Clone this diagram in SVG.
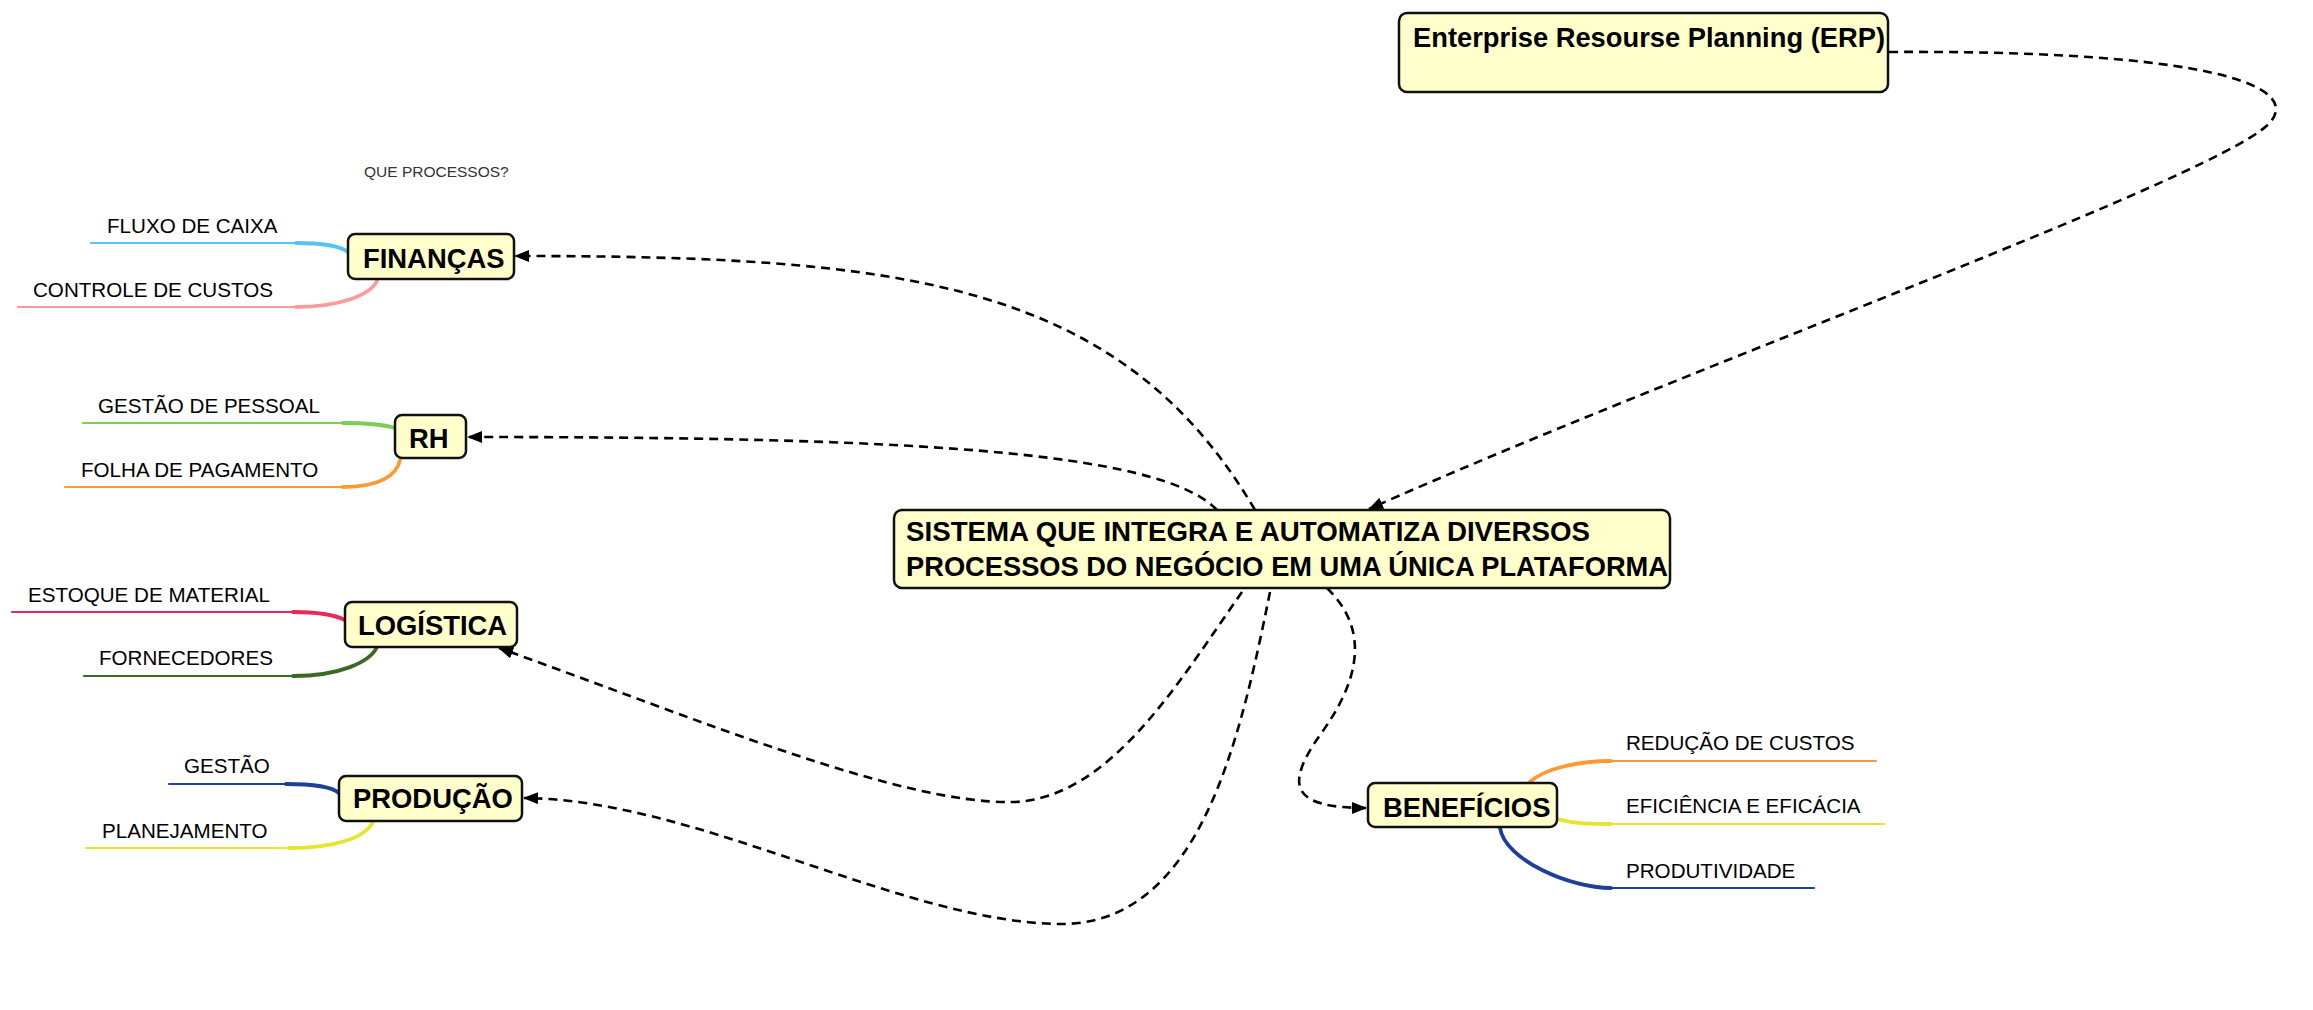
<svg xmlns="http://www.w3.org/2000/svg" width="2313" height="1010" viewBox="0 0 2313 1010">
<style>
.node{fill:#ffffcc;stroke:#111;stroke-width:2.5}
.nt{font-family:"Liberation Sans",Arial,sans-serif;font-weight:bold;font-size:27.4px;fill:#000}
.st{font-family:"Liberation Sans",Arial,sans-serif;font-size:20.6px;fill:#000}
.note{font-family:"Liberation Sans",Arial,sans-serif;font-size:15.5px;fill:#333}
.conn{fill:none;stroke:#000;stroke-width:2.6;stroke-dasharray:9 6;marker-end:url(#arr)}
.br{fill:none;stroke-width:2.2;stroke-linecap:round}
.bc{fill:none;stroke-width:3.8;stroke-linecap:round}
</style>
<defs>
<marker id="arr" viewBox="0 0 15 12" refX="14" refY="6" markerWidth="15" markerHeight="12" markerUnits="userSpaceOnUse" orient="auto">
<path d="M0,0 L15,6 L0,12 z" fill="#000"/>
</marker>
</defs>
<rect width="2313" height="1010" fill="#fff"/>

<g id="connectors">
<path class="conn" d="M1889,52 C2180,50 2300,80 2272,120 C2240,170 1680,370 1369,509"/>
<path class="conn" d="M1255,510 C1120,280 900,256 515,256"/>
<path class="conn" d="M1217,510 C1160,450 900,437 468,437"/>
<path class="conn" d="M1242,592 C1180,680 1110,800 1012,802 C900,804 700,720 499,648"/>
<path class="conn" d="M1270,592 C1240,740 1200,925 1060,924 C900,922 700,800 524,798"/>
<path class="conn" d="M1327,588 C1370,630 1360,680 1320,735 C1285,785 1290,808 1366,808"/>
</g>

<g id="branches">
<path class="br" stroke="#55c3f5" d="M91,243 H296"/>
<path class="bc" stroke="#55c3f5" d="M296,243 C325,243 340,246 348,252"/>
<path class="br" stroke="#ff9a9a" d="M18,307 H296"/>
<path class="bc" stroke="#ff9a9a" d="M296,307 C340,307 370,295 377,281"/>
<path class="br" stroke="#7ccc55" d="M83,423 H343"/>
<path class="bc" stroke="#7ccc55" d="M343,423 C370,423 385,425 395,428"/>
<path class="br" stroke="#ff9933" d="M65,487 H343"/>
<path class="bc" stroke="#ff9933" d="M343,487 C380,487 397,475 400,460"/>
<path class="br" stroke="#e8285a" d="M12,612 H293"/>
<path class="bc" stroke="#e8285a" d="M293,612 C320,612 335,615 345,620"/>
<path class="br" stroke="#3a6b25" d="M84,676 H293"/>
<path class="bc" stroke="#3a6b25" d="M293,676 C340,676 370,662 377,647"/>
<path class="br" stroke="#1e3f9a" d="M169,784 H286"/>
<path class="bc" stroke="#1e3f9a" d="M286,784 C315,784 332,787 339,793"/>
<path class="br" stroke="#e5e52e" d="M86,848 H289"/>
<path class="bc" stroke="#e5e52e" d="M289,848 C335,848 365,838 373,822"/>
<path class="bc" stroke="#ff9933" d="M1530,782 C1545,768 1580,761 1611,761"/>
<path class="br" stroke="#ff9933" d="M1611,761 H1876"/>
<path class="bc" stroke="#e5e52e" d="M1557,819 C1575,824 1590,824 1611,824"/>
<path class="br" stroke="#e5e52e" d="M1611,824 H1884"/>
<path class="bc" stroke="#1e3f9a" d="M1500,828 C1505,860 1570,888 1611,888"/>
<path class="br" stroke="#1e3f9a" d="M1611,888 H1814"/>
</g>

<g id="erp">
<rect class="node" x="1399" y="13" width="489" height="79" rx="8"/>
<text class="nt" x="1413" y="47" textLength="472" lengthAdjust="spacingAndGlyphs">Enterprise Resourse Planning (ERP)</text>
</g>
<g id="central">
<rect class="node" x="894" y="510" width="776" height="78" rx="8"/>
<text class="nt" x="906" y="541" textLength="684" lengthAdjust="spacingAndGlyphs">SISTEMA QUE INTEGRA E AUTOMATIZA DIVERSOS</text>
<text class="nt" x="906" y="576" textLength="762" lengthAdjust="spacingAndGlyphs">PROCESSOS DO NEGÓCIO EM UMA ÚNICA PLATAFORMA</text>
</g>
<g id="financas">
<rect class="node" x="348" y="234" width="166" height="45" rx="7"/>
<text class="nt" x="363" y="268">FINANÇAS</text>
</g>
<g id="rh">
<rect class="node" x="395" y="415" width="71" height="43" rx="7"/>
<text class="nt" x="409" y="448">RH</text>
</g>
<g id="logistica">
<rect class="node" x="345" y="602" width="172" height="45" rx="7"/>
<text class="nt" x="358" y="635">LOGÍSTICA</text>
</g>
<g id="producao">
<rect class="node" x="339" y="776" width="183" height="45" rx="7"/>
<text class="nt" x="353" y="808">PRODUÇÃO</text>
</g>
<g id="beneficios">
<rect class="node" x="1368" y="783" width="189" height="44" rx="7"/>
<text class="nt" x="1383" y="817">BENEFÍCIOS</text>
</g>

<g id="note-que-processos"><text class="note" x="364" y="177">QUE PROCESSOS?</text></g>
<g id="fluxo-caixa"><text class="st" x="107" y="233">FLUXO DE CAIXA</text></g>
<g id="controle-custos"><text class="st" x="33" y="297">CONTROLE DE CUSTOS</text></g>
<g id="gestao-pessoal"><text class="st" x="98" y="413">GESTÃO DE PESSOAL</text></g>
<g id="folha-pagamento"><text class="st" x="81" y="477">FOLHA DE PAGAMENTO</text></g>
<g id="estoque-material"><text class="st" x="28" y="602">ESTOQUE DE MATERIAL</text></g>
<g id="fornecedores"><text class="st" x="99" y="665">FORNECEDORES</text></g>
<g id="gestao"><text class="st" x="184" y="773">GESTÃO</text></g>
<g id="planejamento"><text class="st" x="102" y="838">PLANEJAMENTO</text></g>
<g id="reducao-custos"><text class="st" x="1626" y="750">REDUÇÃO DE CUSTOS</text></g>
<g id="eficiencia"><text class="st" x="1626" y="813">EFICIÊNCIA E EFICÁCIA</text></g>
<g id="produtividade"><text class="st" x="1626" y="878">PRODUTIVIDADE</text></g>
</svg>
